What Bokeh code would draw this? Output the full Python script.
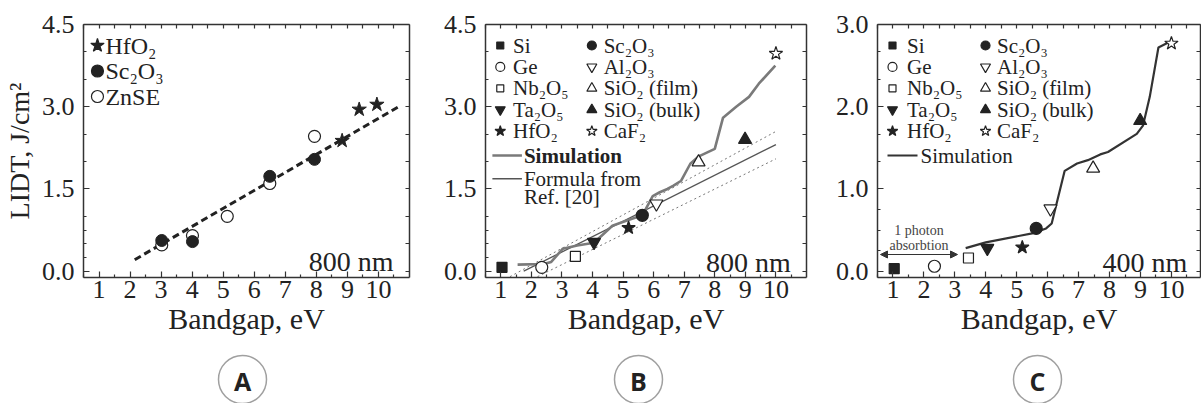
from bokeh.plotting import figure
from bokeh.models import Range1d, LinearAxis, FixedTicker, PrintfTickFormatter, Arrow, NormalHead
from bokeh.layouts import row, column
from bokeh.core.properties import value
from bokeh.embed import file_html
from bokeh.resources import INLINE

SERIF = "Liberation Serif"
INK = "#222222"
AXIS = "#333333"

# ---------------- data ----------------
# Panel A: LIDT at 800 nm for three materials
a_hfo2_gap = [8.83, 9.38, 9.95]
a_hfo2_lidt = [2.38, 2.95, 3.04]
a_sc2o3_gap = [3.02, 4.01, 6.50, 7.94]
a_sc2o3_lidt = [0.56, 0.54, 1.73, 2.04]
a_znse_gap = [3.02, 4.01, 5.13, 6.50, 7.94]
a_znse_lidt = [0.48, 0.65, 1.00, 1.60, 2.46]
a_fit_gap = [2.15, 10.62]
a_fit_lidt = [0.21, 2.99]

# Panels B and C: measured LIDT per material
materials = ["Si", "Ge", "Nb₂O₅", "Ta₂O₅", "HfO₂",
             "Sc₂O₃", "Al₂O₃", "SiO₂ (film)", "SiO₂ (bulk)", "CaF₂"]
material_gap = [1.04, 2.34, 3.44, 4.05, 5.18, 5.63, 6.09, 7.47, 8.99, 10.0]
b_lidt_800 = [0.07, 0.07, 0.27, 0.53, 0.79, 1.02, 1.23, 1.99, 2.40, 3.97]
c_lidt_400 = [0.03, 0.06, 0.16, 0.28, 0.29, 0.52, 0.76, 1.25, 1.83, 2.77]

# Simulation curves
b_sim_gap = [1.55, 2.40, 2.65, 3.03, 3.50, 4.05, 4.65, 5.15, 5.63, 5.97, 6.20,
             6.45, 6.65, 6.90, 7.20, 7.46, 8.00, 8.27, 8.70, 9.12, 9.44, 9.98]
b_sim_lidt = [0.12, 0.13, 0.17, 0.41, 0.47, 0.52, 0.83, 0.93, 1.02, 1.37, 1.44,
              1.50, 1.56, 1.65, 1.96, 2.09, 2.23, 2.80, 3.00, 3.18, 3.42, 3.75]
c_sim_gap = [3.35, 4.00, 5.50, 5.95, 6.13, 6.55, 6.95, 7.30, 7.70, 7.95,
             8.88, 9.08, 9.30, 9.58, 9.90]
c_sim_lidt = [0.28, 0.35, 0.46, 0.52, 0.58, 1.22, 1.31, 1.35, 1.42, 1.45,
              1.67, 1.77, 2.12, 2.72, 2.78]

# Formula from Ref. [20] with its +/- bounds
formula_gap = [1.75, 10.0]
formula_lidt = [0.00, 2.31]
upper_gap = [1.30, 10.0]
upper_lidt = [-0.10, 2.55]
lower_gap = [2.20, 10.0]
lower_lidt = [-0.10, 2.05]

x_major = [1, 2, 3, 4, 5, 6, 7, 8, 9, 10]
x_minor = [0.5 + i for i in range(11)]

# marker style per material: (marker, filled, size)
styles = [("square", True, 10), ("circle", False, 12), ("square", False, 10),
          ("inverted_triangle", True, 13), ("star", True, 14), ("circle", True, 12),
          ("inverted_triangle", False, 13), ("triangle", False, 13),
          ("triangle", True, 13), ("star", False, 14)]

FRAME_TOP, FRAME_H = 24, 253
TOP_H, STRIP_H = 345, 58


def style_axis(ax):
    ax.axis_line_color = AXIS
    ax.axis_line_width = 1.5
    ax.major_tick_line_color = AXIS
    ax.minor_tick_line_color = AXIS
    ax.major_tick_line_width = 1.2
    ax.minor_tick_line_width = 1.2
    ax.major_tick_in = 6
    ax.major_tick_out = 0
    ax.minor_tick_in = 3
    ax.minor_tick_out = 0
    ax.major_label_text_font = SERIF
    ax.major_label_text_font_size = "26px"
    ax.major_label_text_color = INK
    ax.axis_label_text_font = SERIF
    ax.axis_label_text_font_size = "30px"
    ax.axis_label_text_font_style = "normal"
    ax.axis_label_text_color = INK


def make_panel(width, border_left, frame_w, y_range, y_major, y_minor_left, y_minor_right,
               x_end=11.0, ylabel=None):
    p = figure(width=width, height=TOP_H, output_backend="svg", toolbar_location=None,
               x_range=Range1d(0.5, x_end), y_range=Range1d(*y_range),
               min_border_left=border_left, min_border_top=FRAME_TOP,
               min_border_bottom=TOP_H - FRAME_TOP - FRAME_H,
               min_border_right=width - border_left - frame_w,
               x_axis_label="Bandgap, eV", y_axis_label=ylabel)
    p.outline_line_color = None
    p.background_fill_color = "white"
    p.border_fill_color = "white"
    p.grid.visible = False

    bottom = p.below[0]
    left = p.left[0]
    bottom.ticker = FixedTicker(ticks=x_major, minor_ticks=x_minor)
    left.ticker = FixedTicker(ticks=y_major, minor_ticks=y_minor_left)
    left.formatter = PrintfTickFormatter(format="%.1f")

    # top / right axes close the frame; they carry only unlabeled tick marks
    top = LinearAxis(ticker=FixedTicker(ticks=[], minor_ticks=x_minor + x_major))
    right = LinearAxis(ticker=FixedTicker(ticks=[], minor_ticks=y_minor_right + y_major))
    p.add_layout(top, "above")
    p.add_layout(right, "right")

    for ax in (bottom, left, top, right):
        style_axis(ax)
    top.minor_tick_in = 4
    right.minor_tick_in = 4
    top.major_label_standoff = 0
    right.major_label_standoff = 0

    bottom.major_label_standoff = 3
    bottom.axis_label_standoff = 1
    left.major_label_standoff = 9
    left.axis_label_text_font_size = "28px"
    left.axis_label_standoff = 4
    return p


def at(p, fw, px, py):
    """Data coordinates of a point given in pixels from the frame's top-left corner."""
    x0, x1 = p.x_range.start, p.x_range.end
    y0, y1 = p.y_range.start, p.y_range.end
    return x0 + px / fw * (x1 - x0), y1 - py / FRAME_H * (y1 - y0)


def draw_marker(p, x, y, style, size=None):
    marker, filled, s = style
    p.scatter(x, y, marker=marker, size=size or s,
              fill_color=INK if filled else "white", line_color=INK, line_width=1.2)


def put_text(p, x, y, txt, size, align="left", baseline="middle", style="normal", color=INK):
    p.text(x=[x], y=[y], text=[txt], text_font=value(SERIF), text_font_size=size,
           text_align=align, text_baseline=baseline, text_font_style=style, text_color=color)


# ---------------- panel A ----------------
FW_A = 327
pA = make_panel(440, 82, FW_A, (-0.115, 4.5), [0, 1.5, 3.0, 4.5],
                [0.25, 0.5, 0.75, 1.0, 2.0, 2.5, 3.5, 4.0],
                [0.5, 1.0, 2.0, 2.5, 3.5, 4.0], ylabel="LIDT, J/cm²")
pA.line(a_fit_gap, a_fit_lidt, line_color=INK, line_width=3, line_dash="7 4")
pA.scatter(a_znse_gap, a_znse_lidt, marker="circle", size=12, fill_color="white",
           line_color=INK, line_width=1.2)
pA.scatter(a_sc2o3_gap, a_sc2o3_lidt, marker="circle", size=12, fill_color=INK,
           line_color=INK)
pA.scatter(a_hfo2_gap, a_hfo2_lidt, marker="star", size=15, fill_color=INK, line_color=INK)

legend_a = [("HfO₂", ("star", True, 14)), ("Sc₂O₃", ("circle", True, 12)),
            ("ZnSE", ("circle", False, 12))]
for i, (name, st) in enumerate(legend_a):
    mx, my = at(pA, FW_A, 14, 21 + i * 25.5)
    tx, _ = at(pA, FW_A, 22, 0)
    draw_marker(pA, [mx], [my], st)
    put_text(pA, tx, my, name, "24px")
lx, ly = at(pA, FW_A, 311, 237)
put_text(pA, lx, ly, "800 nm", "28px", align="right", baseline="alphabetic")

# ---------------- panel B ----------------
FW_B = 326
pB = make_panel(380, 40, FW_B, (-0.115, 4.5), [0, 1.5, 3.0, 4.5],
                [0.25, 0.5, 0.75, 1.0, 2.0, 2.5, 3.5, 4.0],
                [0.5, 1.0, 2.0, 2.5, 3.5, 4.0])
pB.line(upper_gap, upper_lidt, line_color="#777777", line_width=1, line_dash="2 3")
pB.line(lower_gap, lower_lidt, line_color="#777777", line_width=1, line_dash="2 3")
pB.line(formula_gap, formula_lidt, line_color="#555555", line_width=1.3)
pB.line(b_sim_gap, b_sim_lidt, line_color="#7a7a7a", line_width=2.6)
for g, v, st in zip(material_gap, b_lidt_800, styles):
    draw_marker(pB, [g], [v], st)

# ---------------- panel C ----------------
FW_C = 323
c_minor = [0.25, 0.5, 0.75, 4 / 3, 5 / 3, 7 / 3, 8 / 3]
pC = make_panel(381, 57, FW_C, (-0.077, 3.0), [0, 1, 2, 3], c_minor, c_minor, x_end=10.94)
pC.line(c_sim_gap, c_sim_lidt, line_color="#333333", line_width=2.2)
for g, v, st in zip(material_gap, c_lidt_400, styles):
    draw_marker(pC, [g], [v], st)
ax0, ay = at(pC, FW_C, 3, 230)
ax1, _ = at(pC, FW_C, 80, 230)
pC.add_layout(Arrow(x_start=ax0, y_start=ay, x_end=ax1, y_end=ay, line_color="#333333",
                    line_width=1.2,
                    start=NormalHead(size=7, fill_color="#333333", line_color="#333333"),
                    end=NormalHead(size=7, fill_color="#333333", line_color="#333333")))
tx, ty1 = at(pC, FW_C, 41.5, 206)
_, ty2 = at(pC, FW_C, 41.5, 221)
put_text(pC, tx, ty1, "1 photon", "14px", align="center", color="#444444")
put_text(pC, tx, ty2, "absorbtion", "14px", align="center", color="#444444")

# shared legends of panels B and C
for p, fw, c1s, c1t, c2s, c2t in ((pB, FW_B, 15, 28, 108, 120),
                                   (pC, FW_C, 15, 29.5, 108, 119.5)):
    for i, (name, st) in enumerate(zip(materials, styles)):
        col, r = divmod(i, 5)
        sx, sy = at(p, fw, c1s if col == 0 else c2s, 21 + r * 21.4)
        tx, _ = at(p, fw, c1t if col == 0 else c2t, 0)
        draw_marker(p, [sx], [sy], (st[0], st[1], st[2] - 3))
        put_text(p, tx, sy, name, "21px")

l0, ly = at(pB, FW_B, 7, 131)
l1, _ = at(pB, FW_B, 37, 131)
pB.line([l0, l1], [ly, ly], line_color="#7a7a7a", line_width=2.6)
tx, _ = at(pB, FW_B, 39, 0)
put_text(pB, tx, ly, "Simulation", "21px", style="bold")
_, fy = at(pB, FW_B, 0, 154.3)
pB.line([l0, l1], [fy, fy], line_color="#555555", line_width=1.6)
put_text(pB, tx, fy, "Formula from", "21px")
_, ry = at(pB, FW_B, 0, 172.7)
put_text(pB, tx, ry, "Ref. [20]", "21px")
lx, ly2 = at(pB, FW_B, 310, 237.7)
put_text(pB, lx, ly2, "800 nm", "28px", align="right", baseline="alphabetic")

l0, ly = at(pC, FW_C, 10, 131)
l1, _ = at(pC, FW_C, 40, 131)
pC.line([l0, l1], [ly, ly], line_color="#333333", line_width=2.2)
tx, _ = at(pC, FW_C, 43, 0)
put_text(pC, tx, ly, "Simulation", "21px")
lx, ly2 = at(pC, FW_C, 309.7, 237.7)
put_text(pC, lx, ly2, "400 nm", "28px", align="right", baseline="alphabetic")

# ---------------- panel letters ----------------
strip = figure(width=1201, height=STRIP_H, output_backend="svg", toolbar_location=None,
               x_range=Range1d(0, 1201), y_range=Range1d(STRIP_H, 0),
               min_border=0)
strip.axis.visible = False
strip.grid.visible = False
strip.outline_line_color = None
letter_x = [242, 638, 1037]
letters = ["A", "B", "C"]
strip.scatter(letter_x, [34] * 3, marker="circle", size=48, fill_color="white",
              line_color="#a0a0a0", line_width=1.5)
strip.text(x=letter_x, y=[35] * 3, text=letters, text_font=value("Open Sans"),
           text_font_size="25px", text_font_style="bold", text_align="center",
           text_baseline="middle", text_color="#222222")

layout = column(row(pA, pB, pC), strip)
open("out.html", "w").write(file_html(layout, INLINE))
